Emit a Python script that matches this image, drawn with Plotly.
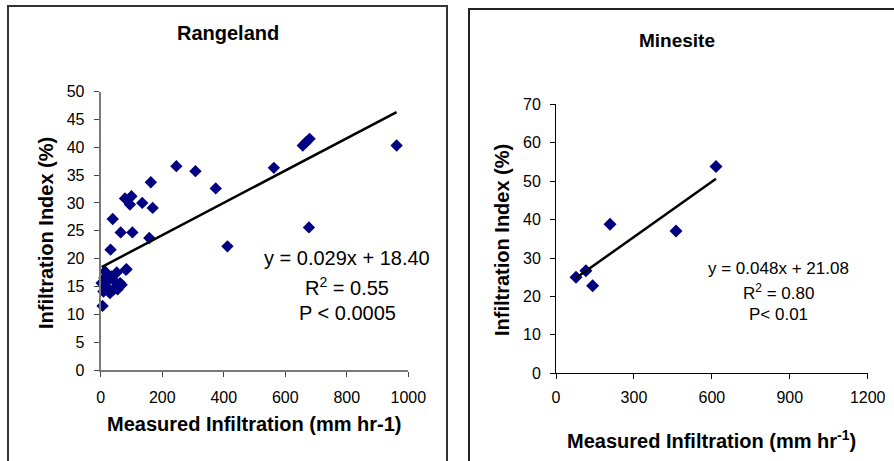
import plotly.graph_objects as go

# ---------------- data ----------------
range_x = [962, 657, 668, 679, 563, 246, 308, 374, 163, 412, 677, 79, 100, 95, 135, 169,
           39, 65, 103, 158, 32, 82, 6, 14, 52, 84, 63, 41, 9, 25, 3, 19, 46, 30, 68, 35, 12, 55]
range_y = [40.3, 40.3, 40.9, 41.5, 36.3, 36.6, 35.7, 32.6, 33.7, 22.2, 25.6, 30.8, 31.2, 29.7, 30.0, 29.1,
           27.1, 24.7, 24.7, 23.7, 21.6, 18.0, 11.5, 17.7, 17.5, 18.1, 15.6, 14.4, 14.1, 16.2, 15.6, 15.0, 15.9, 13.8, 15.3, 16.8, 16.5, 14.5]
range_slope, range_icpt = 0.029, 18.40

mine_x = [77, 115, 141, 208, 462, 616]
mine_y = [25.0, 26.7, 22.8, 38.8, 37.0, 53.8]
mine_slope, mine_icpt = 0.048, 21.08

range_xticks = [0, 200, 400, 600, 800, 1000]
range_yticks = [0, 5, 10, 15, 20, 25, 30, 35, 40, 45, 50]
mine_xticks = [0, 300, 600, 900, 1200]
mine_yticks = [0, 10, 20, 30, 40, 50, 60, 70]

W, H = 894, 461
FONT = "Liberation Sans, Arial, sans-serif"
NAVY = "#000080"

def px(x):
    return x / W

def py(y):
    return 1 - y / H

fig = go.Figure()

fig.add_trace(go.Scatter(x=range_x, y=range_y, mode="markers", xaxis="x", yaxis="y",
                         marker=dict(symbol="diamond", size=9.5, color=NAVY), cliponaxis=False,
                         showlegend=False))
rx = [min(range_x), max(range_x)]
fig.add_trace(go.Scatter(x=rx, y=[range_slope * v + range_icpt for v in rx], mode="lines",
                         xaxis="x", yaxis="y", line=dict(color="black", width=2.5),
                         cliponaxis=False, showlegend=False))

fig.add_trace(go.Scatter(x=mine_x, y=mine_y, mode="markers", xaxis="x2", yaxis="y2",
                         marker=dict(symbol="diamond", size=10, color=NAVY), cliponaxis=False,
                         showlegend=False))
mx = [min(mine_x), max(mine_x)]
fig.add_trace(go.Scatter(x=mx, y=[mine_slope * v + mine_icpt for v in mx], mode="lines",
                         xaxis="x2", yaxis="y2", line=dict(color="black", width=2.5),
                         cliponaxis=False, showlegend=False))

tickfont = dict(family=FONT, size=16, color="black")
left_ax = dict(showgrid=False, zeroline=False, showline=True, linecolor="#7a7a7a", linewidth=2,
               ticks="outside", ticklen=5, tickwidth=1, tickcolor="#444", tickfont=tickfont,
               automargin=False)
right_ax = dict(showgrid=False, zeroline=False, showline=True, linecolor="black", linewidth=1,
                ticks="outside", ticklen=5, tickwidth=1, tickcolor="black", tickfont=tickfont,
                automargin=False)

fig.update_layout(
    width=W, height=H, margin=dict(l=0, r=0, t=0, b=0, autoexpand=False),
    paper_bgcolor="white", plot_bgcolor="white",
    xaxis=dict(domain=[px(100.7), px(408.3)], range=[0, 1000], tickvals=range_xticks,
               anchor="y", ticklabelstandoff=7, **left_ax),
    yaxis=dict(domain=[1 - 370 / H, 1 - 91.5 / H], range=[0, 50], tickvals=range_yticks,
               anchor="x", ticklabelstandoff=6, **left_ax),
    xaxis2=dict(domain=[px(556), px(867.7)], range=[0, 1200], tickvals=mine_xticks,
                anchor="y2", ticklabelstandoff=4, **right_ax),
    yaxis2=dict(domain=[1 - 373.3 / H, 1 - 104.3 / H], range=[0, 70], tickvals=mine_yticks,
                anchor="x2", ticklabelstandoff=6, **right_ax),
    shapes=[
        dict(type="rect", xref="paper", yref="paper", x0=px(8), x1=px(447), y0=-0.2, y1=py(6),
             line=dict(color="#333333", width=2)),
        dict(type="rect", xref="paper", yref="paper", x0=px(469), x1=1.2, y0=-0.2, y1=py(9),
             line=dict(color="#222222", width=2)),
    ],
)

def ann(text, x, y, size, bold=False, angle=0):
    fig.add_annotation(text=f"<b>{text}</b>" if bold else text, xref="paper", yref="paper",
                       x=px(x), y=py(y), xanchor="center", yanchor="middle", showarrow=False,
                       textangle=angle, font=dict(family=FONT, size=size, color="black"))

ann("Rangeland", 228, 33, 20, bold=True)
ann("Minesite", 677, 40, 19, bold=True)
ann("Measured Infiltration (mm hr-1)", 254, 424, 20, bold=True)
ann("Measured Infiltration (mm hr<sup>-1</sup>)", 711, 439, 20, bold=True)
ann("Infiltration Index (%)", 46, 233, 20, bold=True, angle=-90)
ann("Infiltration Index (%)", 502, 240, 20, bold=True, angle=-90)

ann(f"y = {range_slope:.3f}x + {range_icpt:.2f}", 347, 258, 20)
ann("R<sup>2</sup> = 0.55", 347, 286, 20)
ann("P < 0.0005", 347, 313, 20)

ann(f"y = {mine_slope:.3f}x + {mine_icpt:.2f}", 778, 268, 17)
ann("R<sup>2</sup> = 0.80", 778, 292, 17)
ann("P< 0.01", 778, 314, 17)

fig.write_html("out.html", config={"displayModeBar": False},
               post_script="document.body.style.margin='0px';document.body.style.overflow='hidden';")
